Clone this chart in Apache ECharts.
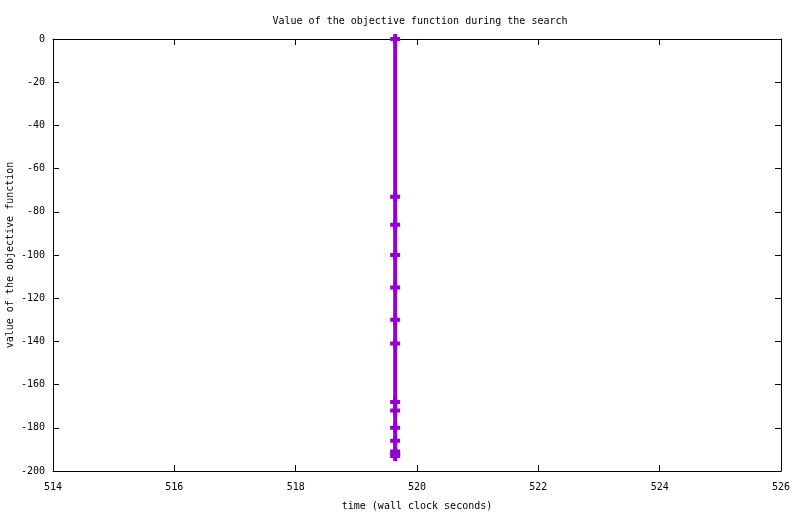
<!DOCTYPE html>
<html><head><meta charset="utf-8">
<script src="https://cdn.jsdelivr.net/npm/echarts@6/dist/echarts.min.js"></script>
<style>html,body{margin:0;padding:0;background:#fff}#c{width:800px;height:514px}</style>
</head><body><div id="c"></div>
<script>
const times = [519.64, 519.64, 519.64, 519.64, 519.64, 519.64, 519.64, 519.64, 519.64, 519.64, 519.64, 519.64, 519.64, 519.64];
const values = [0, -73, -86, -100, -115, -130, -141, -168, -172, -180, -186, -191, -192, -193];
const xTicks = {min: 514, max: 526, interval: 2};
const yTicks = {min: -200, max: 0, interval: 20};
const titleText = 'Value of the objective function during the search';
const xLabel = 'time (wall clock seconds)';
const yLabel = 'value of the objective function';

const font = 'DejaVu Sans Mono';
const chart = echarts.init(document.getElementById('c'), null, {renderer: 'canvas'});
const axisCommon = {
  axisLine: {show: true, onZero: false, lineStyle: {color: '#000', width: 1}},
  axisTick: {show: true, inside: true, length: 6, lineStyle: {color: '#000'}},
  splitLine: {show: false},
  axisLabel: {color: '#000', fontFamily: font, fontSize: 10}
};
chart.setOption({
  animation: false,
  backgroundColor: '#fff',
  title: {text: titleText, left: 415, top: 11, textAlign: 'center',
    textStyle: {fontFamily: font, fontSize: 10, fontWeight: 'normal', color: '#000'}},
  grid: {left: 53, right: 19, top: 39, bottom: 43, containLabel: false, outerBoundsMode: 'none'},
  xAxis: [
    Object.assign({}, axisCommon, {type: 'value', position: 'bottom', min: xTicks.min, max: xTicks.max, interval: xTicks.interval,
      name: xLabel, nameLocation: 'middle', nameGap: 30, nameMoveOverlap: false,
      nameTextStyle: {fontFamily: font, fontSize: 10, color: '#000'},
      axisLabel: Object.assign({}, axisCommon.axisLabel, {margin: 11})}),
    Object.assign({}, axisCommon, {type: 'value', position: 'top', min: xTicks.min, max: xTicks.max, interval: xTicks.interval,
      axisLabel: {show: false}})
  ],
  yAxis: [
    Object.assign({}, axisCommon, {type: 'value', position: 'left', min: yTicks.min, max: yTicks.max, interval: yTicks.interval,
      name: yLabel, nameLocation: 'middle', nameGap: 38, nameRotate: 90, nameMoveOverlap: false,
      nameTextStyle: {fontFamily: font, fontSize: 10, color: '#000'},
      axisLabel: Object.assign({}, axisCommon.axisLabel, {margin: 8})}),
    Object.assign({}, axisCommon, {type: 'value', position: 'right', min: yTicks.min, max: yTicks.max, interval: yTicks.interval,
      axisLabel: {show: false}})
  ],
  series: [{
    type: 'line',
    xAxisIndex: 0, yAxisIndex: 0,
    data: times.map((t, i) => [t, values[i]]),
    lineStyle: {color: '#9400d3', width: 4},
    itemStyle: {color: '#9400d3'},
    symbol: 'path://M3,0H7V3H10V7H7V10H3V7H0V3H3Z',
    symbolSize: [10, 10],
    showSymbol: true,
    clip: false
  }]
});
</script></body></html>
